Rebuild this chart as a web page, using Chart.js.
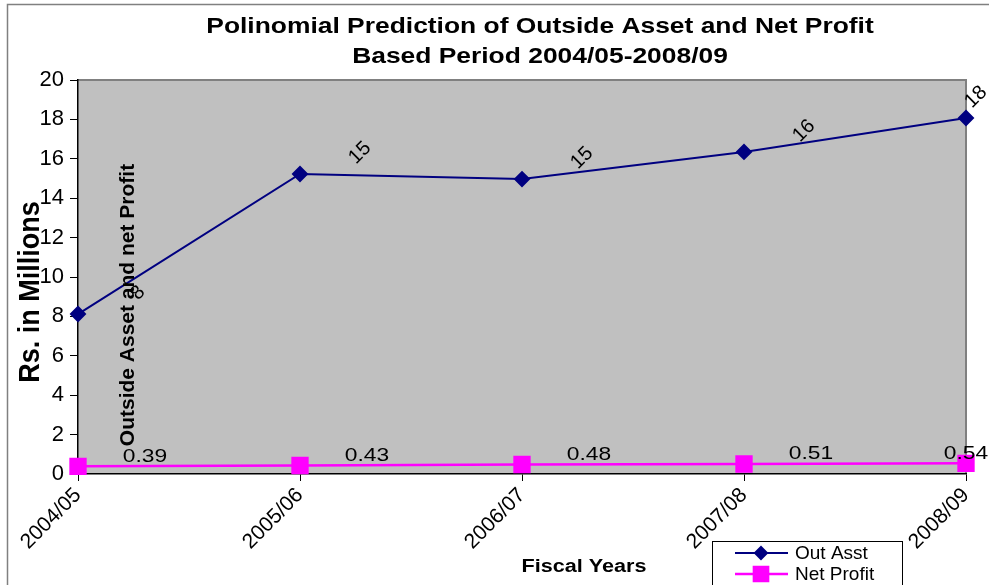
<!DOCTYPE html>
<html>
<head>
<meta charset="utf-8">
<script src="https://cdn.jsdelivr.net/npm/chart.js@4.4.1/dist/chart.umd.min.js"></script>
<style>
  html, body { margin: 0; padding: 0; background: #fff; }
  #wrap { width: 989px; height: 585px; }
</style>
</head>
<body>
<div id="wrap"><canvas id="chart" width="989" height="585"></canvas></div>
<script>
// Chart data
const fiscalYears = ['2004/05', '2005/06', '2006/07', '2007/08', '2008/09'];
const outAsst = [8.12, 15.23, 14.97, 16.35, 18.07];
const netProfit = [0.39, 0.43, 0.48, 0.51, 0.54];
const yTicks = { min: 0, max: 20, step: 2 };

const FONT = 'Arial, "Liberation Sans", sans-serif';
const STRETCH = 1.2; // the reference text is a bit wider than normal Arial

// Draw text centred at (x, y), widened horizontally by sx
function wideText(ctx, text, x, y, sx) {
    ctx.save();
    ctx.translate(x, y);
    ctx.scale(sx, 1);
    ctx.fillText(text, 0, 0);
    ctx.restore();
}

// Gray plot background, outer border, titles, data labels and legend
const decorPlugin = {
    id: 'decor',
    beforeDraw(chart) {
        const ctx = chart.ctx;
        const a = chart.chartArea;
        ctx.save();
        ctx.fillStyle = '#fff';
        ctx.fillRect(0, 0, chart.width, chart.height);
        // outer chart border
        ctx.strokeStyle = '#808080';
        ctx.lineWidth = 1.5;
        ctx.strokeRect(7.5, 4.5, 1100, 700);
        // plot area
        ctx.fillStyle = '#C0C0C0';
        ctx.fillRect(a.left, a.top, a.right - a.left, a.bottom - a.top);
        ctx.strokeStyle = '#808080';
        ctx.lineWidth = 2;
        ctx.beginPath();
        ctx.moveTo(a.left, a.top);
        ctx.lineTo(a.right, a.top);
        ctx.lineTo(a.right, a.bottom);
        ctx.stroke();
        ctx.restore();
    },
    afterDatasetsDraw(chart) {
        const ctx = chart.ctx;
        ctx.save();
        ctx.fillStyle = '#000';
        // Out Asst labels, rotated
        ctx.font = '20px ' + FONT;
        ctx.textAlign = 'center';
        ctx.textBaseline = 'middle';
        chart.getDatasetMeta(0).data.forEach((pt, i) => {
            const cx = Math.min(pt.x + 60, 976);
            const cy = Math.max(pt.y - 21, 90);
            ctx.save();
            ctx.translate(cx, cy);
            ctx.rotate(-Math.PI / 4);
            ctx.fillText(String(Math.round(outAsst[i])), 0, 0);
            ctx.restore();
        });
        // Net Profit labels, horizontal
        ctx.font = '19px ' + FONT;
        chart.getDatasetMeta(1).data.forEach((pt, i) => {
            const cx = Math.min(pt.x + 67, 966);
            wideText(ctx, netProfit[i].toFixed(2), cx, pt.y - 10, STRETCH);
        });
        ctx.restore();
    },
    afterDraw(chart) {
        const ctx = chart.ctx;
        ctx.save();
        ctx.fillStyle = '#000';
        ctx.textAlign = 'center';
        ctx.textBaseline = 'middle';
        // title
        ctx.font = 'bold 22px ' + FONT;
        wideText(ctx, 'Polinomial Prediction of Outside Asset and Net Profit', 540, 27, STRETCH);
        wideText(ctx, 'Based Period 2004/05-2008/09', 540, 57, STRETCH);
        // axis titles
        ctx.font = 'bold 18px ' + FONT;
        wideText(ctx, 'Fiscal Years', 584, 567, STRETCH);
        ctx.save();
        ctx.translate(31, 292);
        ctx.scale(1.1, 1);
        ctx.rotate(-Math.PI / 2);
        ctx.font = 'bold 27px ' + FONT;
        ctx.fillText('Rs. in Millions', 0, 0);
        ctx.restore();
        ctx.save();
        ctx.translate(128, 305);
        ctx.rotate(-Math.PI / 2);
        ctx.font = 'bold 21px ' + FONT;
        ctx.fillText('Outside Asset and net Profit', 0, 0);
        ctx.restore();
        // legend
        ctx.fillStyle = '#fff';
        ctx.fillRect(712, 541, 190, 60);
        ctx.strokeStyle = '#000';
        ctx.lineWidth = 1;
        ctx.strokeRect(712.5, 541.5, 190, 60);
        const items = [
            { text: 'Out Asst', color: '#000080', y: 553, style: 'rectRot', r: 6, w: 2 },
            { text: 'Net Profit', color: '#FF00FF', y: 574, style: 'rect', r: 10, w: 2.5 }
        ];
        items.forEach(it => {
            ctx.strokeStyle = it.color;
            ctx.lineWidth = it.w;
            ctx.beginPath();
            ctx.moveTo(735, it.y);
            ctx.lineTo(788, it.y);
            ctx.stroke();
            Chart.helpers.drawPoint(ctx, { pointStyle: it.style, radius: it.r, borderWidth: 1 }, 761, it.y);
            ctx.fillStyle = it.color;
            ctx.fill();
            ctx.fillStyle = '#000';
            ctx.font = '19px ' + FONT;
            ctx.textAlign = 'left';
            ctx.fillText(it.text, 795, it.y + 1);
        });
        ctx.restore();
    }
};

new Chart(document.getElementById('chart'), {
    type: 'line',
    data: {
        labels: fiscalYears,
        datasets: [{
            label: 'Out Asst',
            data: outAsst,
            borderColor: '#000080',
            backgroundColor: '#000080',
            borderWidth: 2,
            pointStyle: 'rectRot',
            pointRadius: 7,
            tension: 0
        }, {
            label: 'Net Profit',
            data: netProfit,
            borderColor: '#FF00FF',
            backgroundColor: '#FF00FF',
            borderWidth: 2.5,
            pointStyle: 'rect',
            pointRadius: 10.5,
            tension: 0
        }]
    },
    options: {
        responsive: false,
        animation: false,
        clip: false,
        layout: { padding: { top: 80, right: 23, left: 0, bottom: 0 } },
        plugins: {
            legend: { display: false },
            title: { display: false },
            tooltip: { enabled: false }
        },
        scales: {
            x: {
                type: 'category',
                offset: false,
                grid: { drawOnChartArea: false, drawTicks: true, tickLength: 7, color: '#000' },
                border: { color: '#000', width: 1.5 },
                ticks: {
                    minRotation: 45,
                    maxRotation: 45,
                    color: '#000',
                    padding: 2,
                    font: { size: 21, family: FONT }
                },
                afterFit(scale) {
                    scale.height = 111;
                    scale.paddingLeft = 0;
                    scale.paddingRight = 0;
                }
            },
            y: {
                min: yTicks.min,
                max: yTicks.max,
                grid: { drawOnChartArea: false, drawTicks: true, tickLength: 8, color: '#000' },
                border: { color: '#000', width: 1.5 },
                ticks: {
                    stepSize: yTicks.step,
                    color: '#000',
                    padding: 6,
                    font: { size: 22, family: FONT }
                },
                afterFit(scale) {
                    scale.width = 78;
                    scale.paddingTop = 0;
                    scale.paddingBottom = 0;
                }
            }
        }
    },
    plugins: [decorPlugin]
});
</script>
</body>
</html>
